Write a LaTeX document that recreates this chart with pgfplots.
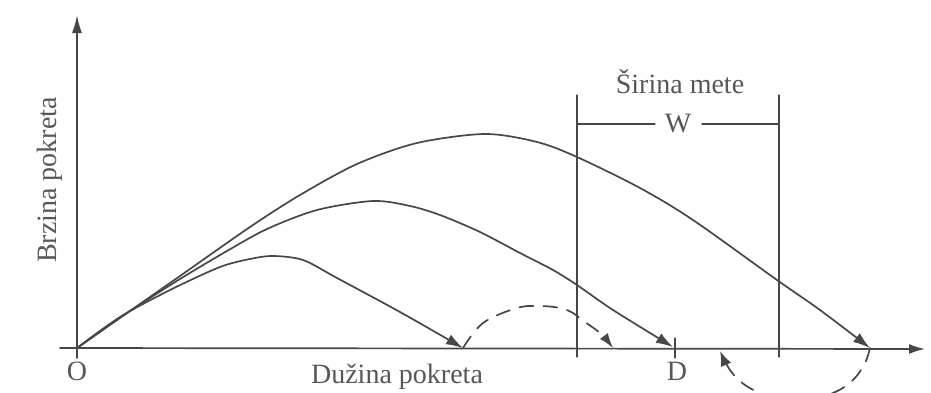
\documentclass[border=0pt]{standalone}
\usepackage{fontspec}
\setmainfont{Liberation Serif}
\usepackage{pgfplots}
\pgfplotsset{compat=1.18}
\usetikzlibrary{arrows.meta}
\definecolor{ink}{HTML}{4A4646}
\definecolor{txt}{HTML}{5A5656}
\tikzset{lbl/.style={text=txt, font=\fontsize{28}{32}\selectfont, inner sep=0pt}}
\begin{document}
\begin{tikzpicture}
\begin{axis}[
  scale only axis, width=931pt, height=392pt,
  xmin=-77, xmax=854, ymin=-44, ymax=348,
  axis line style={draw=none}, xtick=\empty, ytick=\empty,
  clip=true,
  every axis plot/.append style={color=ink, line width=1.7pt, line cap=round},
]
% axes
\addplot[-{Latex[length=16pt,width=10pt]}] coordinates {(-17,0) (848,-1)};
\addplot[-{Latex[length=18pt,width=10pt]}] coordinates {(0,-10) (0,333)};
% target lines
\addplot[line width=1.3pt] coordinates {(500,-9) (500,253)};
\addplot[line width=1.3pt] coordinates {(702,-9) (702,253)};
\addplot[line width=1.3pt] coordinates {(598,-10) (598,10)};
\addplot[line width=1.3pt] coordinates {(500,224) (578,224)};
\addplot[line width=1.3pt] coordinates {(625,224) (702,224)};
% curve 1
\addplot[smooth, tension=0.5, -{Latex[length=17pt,width=11pt]}] coordinates {
 (0,0) (43,31) (93,58) (143,81) (173,89) (196,92) (226,88) (260,70) (323,36) (386,0)};
% curve 2
\addplot[smooth, tension=0.5, -{Latex[length=17pt,width=11pt]}] coordinates {
 (0,0) (50,35) (103,69) (150,97) (190,119) (240,138) (296,147) (333,142) (363,133) (403,116) (443,95) (476,78) (500,63) (536,38) (596,1)};
% curve 3
\addplot[smooth, tension=0.5, -{Latex[length=17pt,width=11pt]}] coordinates {
 (0,0) (50,35) (103,72) (173,121) (223,153) (280,184) (340,205) (408,214) (460,206) (500,191) (563,160) (616,128) (700,68) (743,38) (793,0)};
% dashed corrections
\addplot[smooth, tension=0.6, dash pattern=on 14pt off 10pt, -{Latex[length=15pt,width=10pt]}] coordinates {
 (386,0) (406,25) (440,40) (463,42) (483,40) (496,35) (505,28) (523,15) (536,0)};
\addplot[smooth, tension=0.6, dash pattern=on 14pt off 10pt, -{Latex[length=15pt,width=11pt]}] coordinates {
 (793,0) (788,-15) (776,-32) (756,-45) (723,-54) (693,-49) (668,-37) (653,-22) (643,-3)};
% labels
\node[lbl] at (axis cs:603,266) {Širina mete};
\node[lbl, fill=white, inner xsep=3pt] at (axis cs:601,224) {W};
\node[lbl] at (axis cs:0,-23) {O};
\node[lbl] at (axis cs:600,-23) {D};
\node[lbl] at (axis cs:320,-29) {Dužina pokreta};
\node[lbl, rotate=90] at (axis cs:-27,168) {Brzina pokreta};
\end{axis}
\end{tikzpicture}
\end{document}
